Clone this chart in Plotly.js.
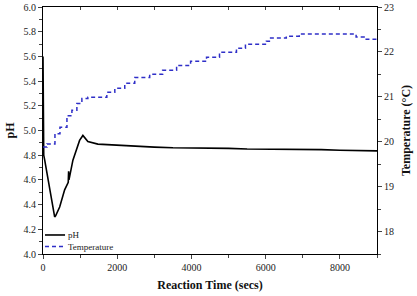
<!DOCTYPE html>
<html><head><meta charset="utf-8">
<script src="https://cdn.plot.ly/plotly-3.0.1.min.js"></script>
<style>html,body{margin:0;padding:0;background:#fff}#c{width:417px;height:296px}</style>
</head><body><div id="c"></div>
<script>
const phTime = [0, 5, 20, 46, 134, 223, 314, 340, 449, 583, 640, 680, 690, 700, 806, 895, 986, 1075, 1209, 1478, 2015, 2500, 3000, 3500, 4000, 4500, 5000, 5500, 6000, 6500, 7000, 7500, 8000, 8500, 9000];
const phValues = [5.6, 5.0, 4.8, 4.76, 4.60, 4.44, 4.30, 4.31, 4.38, 4.52, 4.56, 4.58, 4.67, 4.60, 4.76, 4.84, 4.92, 4.96, 4.91, 4.89, 4.88, 4.87, 4.865, 4.86, 4.86, 4.855, 4.855, 4.85, 4.85, 4.85, 4.845, 4.845, 4.84, 4.84, 4.835];
const tempTime = [0, 107, 322, 457, 645, 779, 913, 1048, 1209, 1451, 1720, 1935, 2203, 2472, 2875, 3224, 3600, 3977, 4407, 4756, 5213, 5455, 6019, 6100, 6556, 6905, 8330, 8437, 8652, 9000];
const tempValues = [19.88, 19.95, 20.18, 20.32, 20.58, 20.70, 20.85, 20.96, 20.99, 20.99, 21.10, 21.19, 21.30, 21.43, 21.50, 21.59, 21.70, 21.79, 21.88, 21.99, 22.08, 22.17, 22.24, 22.31, 22.35, 22.40, 22.40, 22.33, 22.28, 22.26];
const seriesNames = ['pH', 'Temperature'];

const F = "Liberation Serif, Times New Roman, serif";
const BLUE = '#2f2fc8';
const traces = [
  {x: phTime, y: phValues, name: seriesNames[0], type: 'scatter', mode: 'lines',
   line: {color: '#000', width: 1.6}},
  {x: tempTime, y: tempValues, name: seriesNames[1], type: 'scatter', mode: 'lines',
   yaxis: 'y2', line: {color: BLUE, width: 1.5, dash: '4px,3px', shape: 'hv'}},
  {x: [0, 9000], y: [null, null], xaxis: 'x2', showlegend: false, hoverinfo: 'skip'}
];
const layout = {
  width: 417, height: 296,
  margin: {l: 43, r: 40, t: 7, b: 42},
  paper_bgcolor: '#fff', plot_bgcolor: '#fff',
  font: {family: F, size: 10, color: '#222'},
  showlegend: false,
  shapes: [
    {type: 'line', xref: 'paper', yref: 'paper', x0: 0.006, x1: 0.066, y0: 0.077, y1: 0.077,
     line: {color: '#000', width: 1.6}},
    {type: 'line', xref: 'paper', yref: 'paper', x0: 0.006, x1: 0.066, y0: 0.030, y1: 0.030,
     line: {color: BLUE, width: 1.5, dash: '4px,3px'}}
  ],
  annotations: [
    {xref: 'paper', yref: 'paper', x: 0.07, y: 0.077, xanchor: 'left', yanchor: 'middle', showarrow: false,
     text: seriesNames[0], font: {family: F, size: 9, color: '#222'}},
    {xref: 'paper', yref: 'paper', x: 0.07, y: 0.030, xanchor: 'left', yanchor: 'middle', showarrow: false,
     text: seriesNames[1], font: {family: F, size: 9, color: '#222'}}
  ],
  xaxis: {range: [0, 9000], tickvals: [0, 2000, 4000, 6000, 8000], ticks: 'outside', ticklen: 4,
          showgrid: false, zeroline: false, showline: true, linecolor: '#000', linewidth: 1,
          minor: {dtick: 1000, ticks: 'outside', ticklen: 3, showgrid: false},
          tickfont: {family: F, size: 10},
          title: {text: '<b>Reaction Time (secs)</b>', font: {family: F, size: 12, color: '#111'}, standoff: 8}},
  xaxis2: {range: [0, 9000], overlaying: 'x', side: 'top', dtick: 1000, tick0: 0, ticks: 'inside', ticklen: 3,
           showticklabels: false, showgrid: false, zeroline: false, showline: true, linecolor: '#000', linewidth: 1},
  yaxis: {range: [4.0, 6.0], dtick: 0.2, tickformat: '.1f', ticks: 'outside', ticklen: 4,
          showgrid: false, zeroline: false, showline: true, linecolor: '#000', linewidth: 1,
          minor: {dtick: 0.1, ticks: 'outside', ticklen: 3, showgrid: false},
          tickfont: {family: F, size: 10},
          title: {text: '<b>pH</b>', font: {family: F, size: 12, color: '#111'}, standoff: 6}},
  yaxis2: {range: [17.5, 23], tickvals: [18, 19, 20, 21, 22, 23], overlaying: 'y', side: 'right',
           ticks: 'outside', ticklen: 4, showgrid: false, zeroline: false, showline: true,
           linecolor: '#000', linewidth: 1,
           minor: {dtick: 0.5, tick0: 17.5, ticks: 'outside', ticklen: 3, showgrid: false},
           tickfont: {family: F, size: 10},
           title: {text: '<b>Temperature (°C)</b>', font: {family: F, size: 12, color: '#111'}, standoff: 8}}
};
Plotly.newPlot('c', traces, layout, {displayModeBar: false, staticPlot: true});
</script></body></html>
